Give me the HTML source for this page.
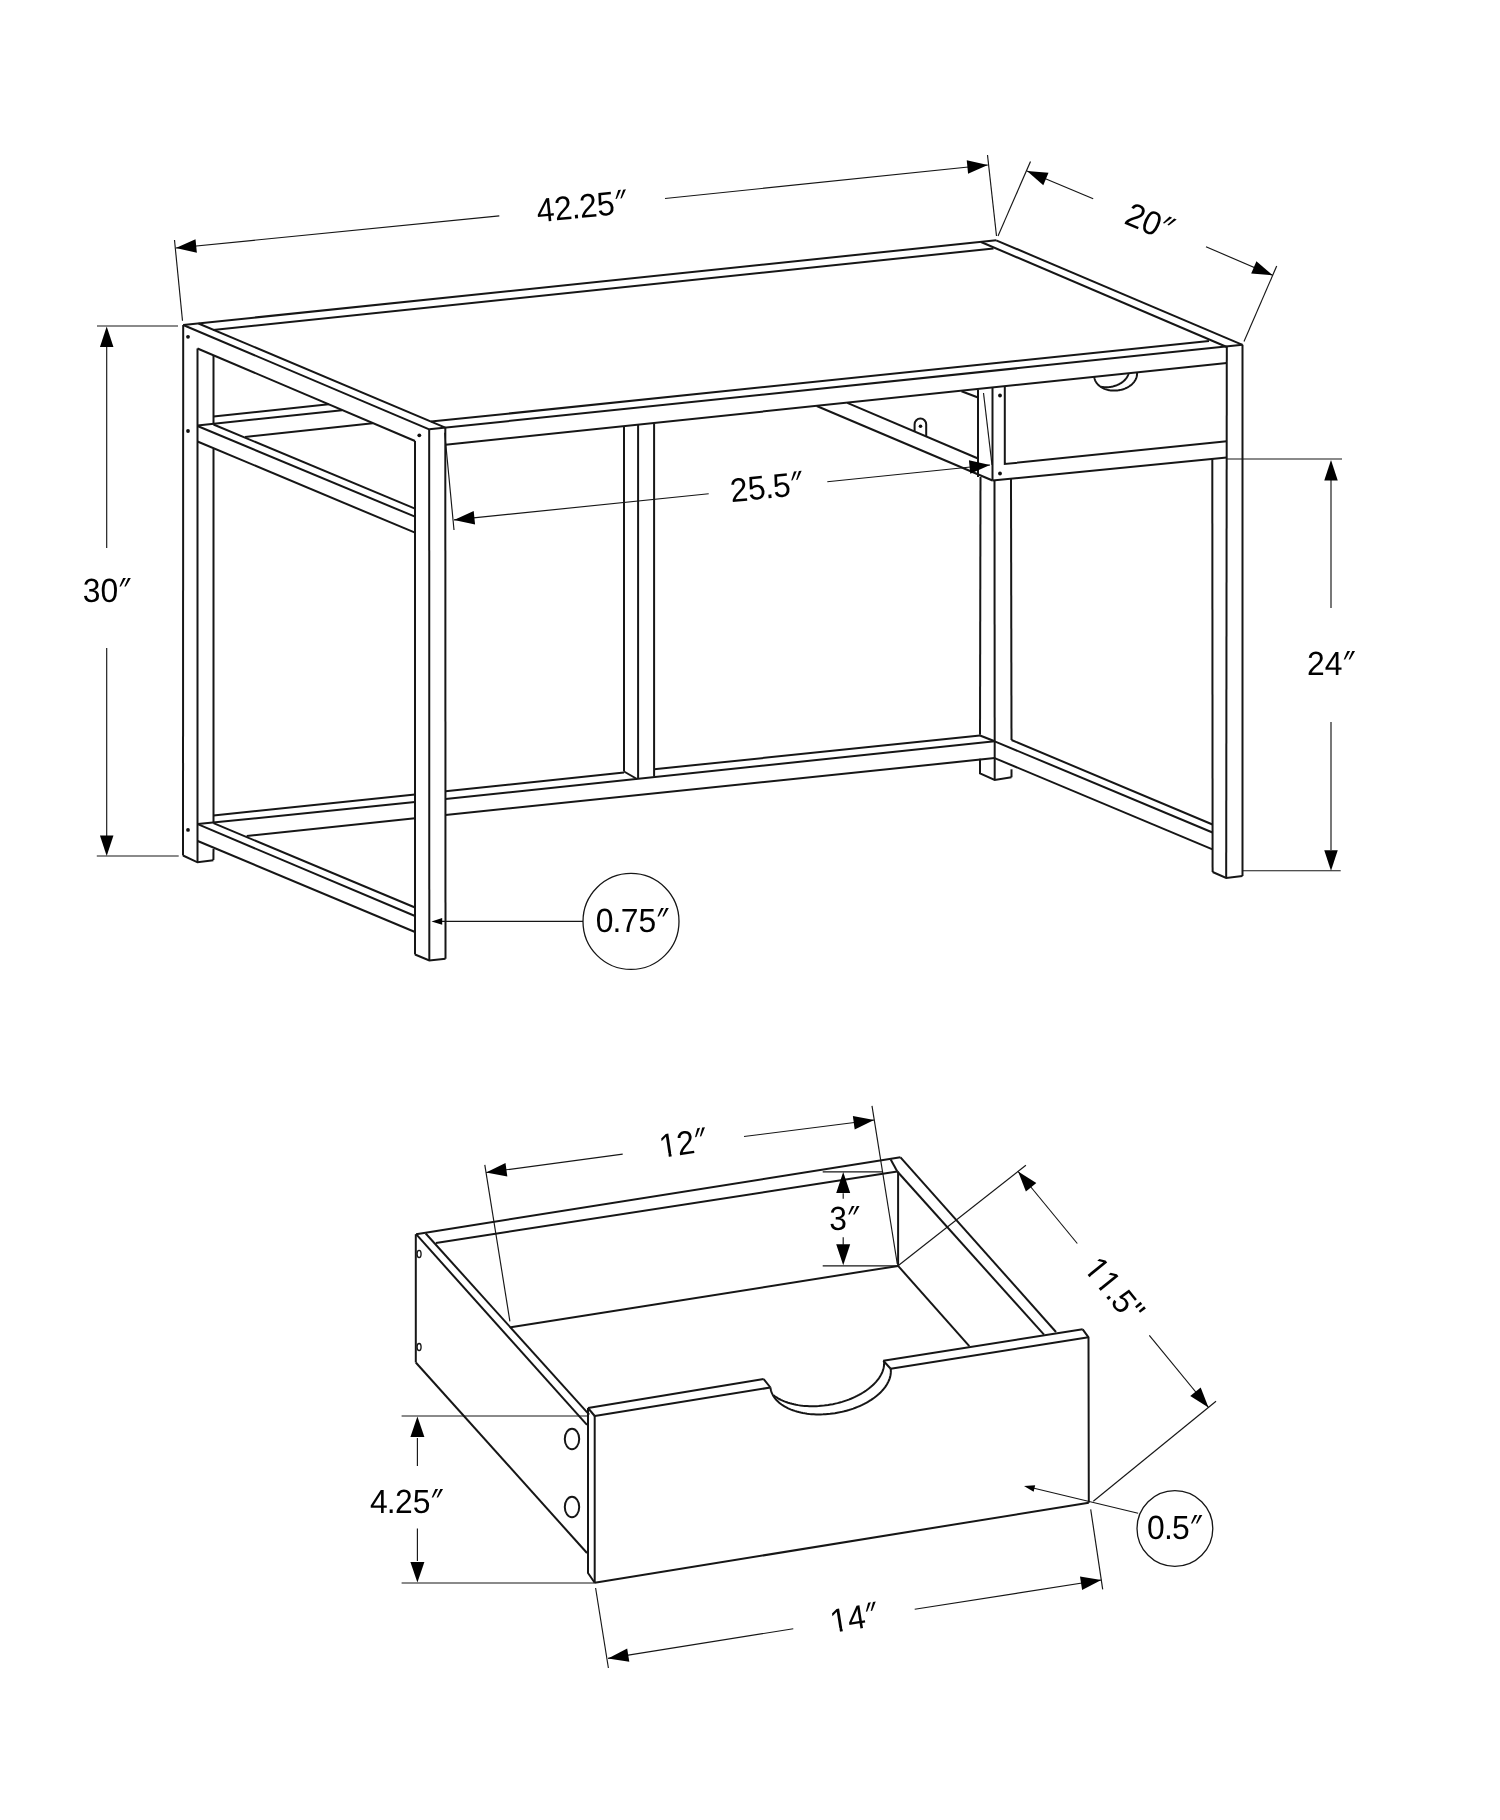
<!DOCTYPE html>
<html><head><meta charset="utf-8"><title>Desk dimensions</title>
<style>html,body{margin:0;padding:0;background:#fff}svg{display:block}</style></head>
<body><svg width="1500" height="1820" viewBox="0 0 1500 1820">
<rect width="1500" height="1820" fill="#fff"/>
<g fill="none" stroke="#161616" stroke-width="2.00" stroke-linecap="butt" stroke-linejoin="miter">
<polyline points="183.20,325.00 996.20,240.30"/>
<polyline points="996.20,240.30 1242.50,344.80"/>
<polyline points="429.20,429.30 1242.50,344.80"/>
<polyline points="183.20,325.00 429.20,429.30"/>
<polyline points="198.50,323.50 445.30,427.60"/>
<polyline points="213.00,330.00 993.50,248.50"/>
<polyline points="981.00,242.00 1226.80,347.00"/>
<polyline points="431.00,421.60 1209.00,341.00"/>
<polyline points="445.50,444.70 1226.80,363.00"/>
<polyline points="415.00,441.00 415.00,954.50"/>
<polyline points="429.20,429.30 429.30,960.50"/>
<polyline points="445.30,427.60 445.50,958.70"/>
<polyline points="415.00,954.50 429.30,960.50 445.50,958.70"/>
<polyline points="183.20,325.00 183.00,855.50"/>
<polyline points="197.50,348.50 197.50,862.30"/>
<polyline points="213.50,355.00 213.50,424.50"/>
<polyline points="213.50,449.00 213.50,823.20"/>
<polyline points="213.50,849.00 213.40,860.00"/>
<polyline points="183.00,855.50 197.50,862.30 213.40,860.30"/>
<polyline points="197.50,348.50 415.00,441.00"/>
<polyline points="213.50,424.50 415.00,508.70"/>
<polyline points="197.50,426.00 415.00,516.70"/>
<polyline points="197.50,441.50 415.00,532.70"/>
<polyline points="213.50,416.50 328.70,404.20"/>
<polyline points="197.50,425.50 342.00,410.20"/>
<polyline points="245.00,437.00 372.70,423.30"/>
<polyline points="213.50,823.20 415.00,907.50"/>
<polyline points="197.70,824.20 415.00,916.00"/>
<polyline points="197.70,841.00 415.00,932.00"/>
<polyline points="213.40,815.50 415.00,794.50"/>
<polyline points="445.50,791.20 624.00,772.50"/>
<polyline points="654.10,769.30 980.00,735.50"/>
<polyline points="197.70,824.10 415.00,802.10"/>
<polyline points="445.50,799.00 994.70,741.30"/>
<polyline points="246.70,836.00 415.00,818.30"/>
<polyline points="445.50,815.00 994.70,758.10"/>
<polyline points="624.00,426.50 624.00,771.50"/>
<polyline points="638.10,425.00 638.10,778.70"/>
<polyline points="654.10,423.40 654.10,776.50"/>
<polyline points="624.00,771.50 637.00,779.00"/>
<polyline points="980.50,477.00 980.00,734.70"/>
<polyline points="994.50,480.50 994.70,780.00"/>
<polyline points="1011.00,479.00 1011.50,740.00"/>
<polyline points="1011.50,769.30 1011.50,777.30"/>
<polyline points="980.00,758.70 980.00,773.30 994.70,780.00 1011.50,777.30"/>
<polyline points="980.00,735.50 994.70,741.30"/>
<polyline points="1011.50,740.00 1212.50,824.50"/>
<polyline points="994.70,741.30 1212.50,832.50"/>
<polyline points="994.70,758.10 1212.50,849.30"/>
<polyline points="1242.50,344.80 1242.50,876.00"/>
<polyline points="1226.80,347.00 1226.20,877.90"/>
<polyline points="1212.30,458.70 1212.60,872.00"/>
<polyline points="1212.60,872.00 1226.20,877.90 1242.50,876.00"/>
<polyline points="978.00,389.50 978.00,477.00"/>
<polyline points="992.50,388.00 992.50,480.50"/>
<polyline points="1004.80,387.00 1004.80,464.00 1226.80,441.20"/>
<polyline points="992.50,480.50 1226.80,457.50"/>
<polyline points="847.30,402.80 978.00,458.50"/>
<polyline points="816.70,406.00 992.50,480.50"/>
<polyline points="961.50,391.20 978.00,397.50"/>
<polyline points="1137.00,372.30 1137.05,372.92 1137.07,373.55 1137.06,374.17 1137.01,374.80 1136.93,375.43 1136.82,376.05 1136.67,376.68 1136.49,377.30 1136.28,377.91 1136.04,378.53 1135.77,379.13 1135.46,379.73 1135.13,380.32 1134.76,380.90 1134.37,381.47 1133.95,382.04 1133.49,382.59 1133.01,383.12 1132.51,383.65 1131.98,384.16 1131.42,384.66 1130.84,385.14 1130.23,385.60 1129.61,386.05 1128.96,386.48 1128.29,386.89 1127.60,387.29 1126.89,387.66 1126.17,388.01 1125.43,388.35 1124.67,388.66 1123.90,388.95 1123.12,389.22 1122.33,389.46 1121.52,389.69 1120.71,389.89 1119.89,390.06 1119.06,390.22 1118.23,390.35 1117.39,390.45 1116.55,390.53 1115.71,390.59 1114.87,390.62 1114.03,390.62 1113.19,390.60 1112.36,390.56 1111.53,390.49 1110.71,390.40 1109.89,390.29 1109.09,390.15 1108.29,389.98 1107.51,389.79 1106.74,389.58 1105.98,389.35 1105.24,389.09 1104.51,388.81 1103.80,388.51 1103.11,388.19 1102.44,387.85 1101.78,387.48 1101.15,387.10 1100.55,386.70 1099.96,386.28 1099.40,385.84 1098.86,385.38 1098.36,384.91 1097.87,384.42 1097.42,383.92 1096.99,383.40 1096.59,382.87 1096.22,382.32 1095.88,381.77 1095.57,381.20 1095.30,380.62 1095.05,380.04 1094.84,379.44 1094.65,378.84 1094.50,378.23 1094.38,377.62 1094.30,377.00"/>
<polyline points="1128.67,373.28 1128.49,373.90 1128.28,374.51 1128.04,375.13 1127.77,375.73 1127.46,376.33 1127.13,376.92 1126.76,377.50 1126.37,378.07 1125.95,378.64 1125.49,379.19 1125.01,379.72 1124.51,380.25 1123.98,380.76 1123.42,381.26 1122.84,381.74 1122.23,382.20 1121.61,382.65 1120.96,383.08 1120.29,383.49 1119.60,383.89 1118.89,384.26 1118.17,384.61 1117.43,384.95 1116.67,385.26 1115.90,385.55 1115.12,385.82 1114.33,386.06 1113.52,386.29 1112.71,386.49 1111.89,386.66 1111.06,386.82 1110.23,386.95 1109.39,387.05 1108.55,387.13 1107.71,387.19 1106.87,387.22 1106.03,387.22 1105.19,387.20 1104.36,387.16 1103.53,387.09 1102.71,387.00 1101.89,386.89 1101.09,386.75"/>
<polyline points="416.10,1234.20 900.50,1157.30"/>
<polyline points="435.90,1243.00 897.30,1171.50"/>
<polyline points="415.80,1234.20 415.80,1362.50"/>
<polyline points="416.10,1234.20 587.00,1424.90"/>
<polyline points="425.70,1233.50 589.20,1414.60"/>
<polyline points="415.80,1362.50 587.00,1553.00"/>
<polyline points="900.50,1157.30 1056.00,1332.00"/>
<polyline points="897.30,1171.50 1044.00,1334.70"/>
<polyline points="890.70,1159.50 897.30,1171.50"/>
<polyline points="898.10,1171.50 898.10,1265.90"/>
<polyline points="898.10,1265.90 969.30,1346.10"/>
<polyline points="510.70,1327.30 898.10,1265.90"/>
<polyline points="588.00,1408.00 763.70,1379.10"/>
<polyline points="883.30,1360.70 1082.70,1329.30"/>
<polyline points="594.70,1416.00 770.40,1387.50"/>
<polyline points="890.70,1368.70 1088.50,1337.30"/>
<polyline points="1082.70,1329.30 1088.50,1337.30 1088.80,1502.70"/>
<polyline points="1088.80,1502.70 594.70,1582.70"/>
<polyline points="588.00,1408.00 588.00,1573.00 594.70,1582.70"/>
<polyline points="594.70,1416.00 594.70,1582.70"/>
<polyline points="588.00,1408.00 594.70,1416.00"/>
<polyline points="763.70,1379.10 770.40,1387.50"/>
<polyline points="883.30,1360.70 890.70,1368.70"/>
<polyline points="890.70,1368.70 890.82,1370.09 890.85,1371.48 890.79,1372.89 890.64,1374.31 890.39,1375.73 890.05,1377.15 889.62,1378.58 889.09,1380.01 888.48,1381.43 887.78,1382.85 886.99,1384.26 886.11,1385.66 885.15,1387.05 884.10,1388.42 882.97,1389.78 881.76,1391.13 880.47,1392.45 879.10,1393.75 877.66,1395.02 876.14,1396.27 874.56,1397.49 872.91,1398.69 871.19,1399.85 869.41,1400.97 867.57,1402.06 865.67,1403.12 863.72,1404.13 861.72,1405.11 859.66,1406.04 857.57,1406.93 855.43,1407.78 853.26,1408.58 851.04,1409.33 848.80,1410.04 846.53,1410.69 844.24,1411.30 841.92,1411.85 839.59,1412.35 837.24,1412.80 834.88,1413.20 832.52,1413.54 830.15,1413.83 827.78,1414.06 825.42,1414.24 823.06,1414.36 820.72,1414.42 818.39,1414.43 816.08,1414.39 813.79,1414.28 811.53,1414.13 809.30,1413.91 807.10,1413.64 804.94,1413.32 802.81,1412.94 800.73,1412.51 798.70,1412.02 796.71,1411.48 794.78,1410.90 792.90,1410.26 791.08,1409.57 789.32,1408.83 787.62,1408.04 785.99,1407.21 784.43,1406.34 782.94,1405.42 781.53,1404.45 780.19,1403.45 778.92,1402.41 777.74,1401.33 776.64,1400.22 775.62,1399.07 774.68,1397.89 773.83,1396.67 773.07,1395.43 772.40,1394.17 771.82,1392.88 771.33,1391.56 770.93,1390.22 770.62,1388.87 770.40,1387.50"/>
<polyline points="884.00,1360.50 884.12,1361.89 884.15,1363.28 884.09,1364.69 883.94,1366.11 883.69,1367.53 883.35,1368.95 882.92,1370.38 882.39,1371.81 881.78,1373.23 881.08,1374.65 880.29,1376.06 879.41,1377.46 878.45,1378.85 877.40,1380.22 876.27,1381.58 875.06,1382.93 873.77,1384.25 872.40,1385.55 870.96,1386.82 869.44,1388.07 867.86,1389.29 866.21,1390.49 864.49,1391.65 862.71,1392.77 860.87,1393.86 858.97,1394.92 857.02,1395.93 855.02,1396.91 852.96,1397.84 850.87,1398.73 848.73,1399.58 846.56,1400.38 844.34,1401.13 842.10,1401.84 839.83,1402.49 837.54,1403.10 835.22,1403.65 832.89,1404.15 830.54,1404.60 828.18,1405.00 825.82,1405.34 823.45,1405.63 821.08,1405.86 818.72,1406.04 816.36,1406.16 814.02,1406.22 811.69,1406.23 809.38,1406.19 807.09,1406.08 804.83,1405.93 802.60,1405.71 800.40,1405.44 798.24,1405.12 796.11,1404.74 794.03,1404.31 792.00,1403.82 790.01,1403.28 788.08,1402.70 786.20,1402.06 784.38,1401.37 782.62,1400.63 780.92,1399.84 779.29,1399.01 777.73,1398.14 776.24,1397.22 774.83,1396.25 773.49,1395.25"/>
</g>
<g fill="none" stroke="#161616" stroke-width="1.15">
<polyline points="174.50,240.00 182.50,320.70"/>
<polyline points="987.50,155.00 996.50,236.00"/>
<polyline points="176.00,248.00 499.30,215.90"/>
<polyline points="665.00,198.50 987.80,165.00"/>
<polyline points="998.00,236.00 1030.50,161.50"/>
<polyline points="1244.00,341.50 1276.70,266.00"/>
<polyline points="1027.00,171.00 1093.20,198.80"/>
<polyline points="1206.00,246.80 1272.70,275.30"/>
<polyline points="444.70,432.70 454.00,530.00"/>
<polyline points="983.50,393.00 992.00,465.00"/>
<polyline points="454.00,519.90 708.70,493.80"/>
<polyline points="827.30,481.70 990.00,465.00"/>
<polyline points="97.00,326.00 178.00,326.00"/>
<polyline points="96.80,856.00 178.70,856.00"/>
<polyline points="106.70,346.00 106.70,548.00"/>
<polyline points="106.70,648.00 106.70,836.00"/>
<polyline points="1226.80,459.00 1342.00,459.00"/>
<polyline points="1242.50,870.70 1340.70,870.70"/>
<polyline points="1331.00,479.00 1331.00,608.00"/>
<polyline points="1331.00,722.00 1331.00,850.00"/>
<polyline points="583.00,921.40 440.00,921.40"/>
<polyline points="484.80,1164.80 509.90,1321.30"/>
<polyline points="872.00,1105.90 897.30,1264.00"/>
<polyline points="486.10,1172.50 622.70,1154.10"/>
<polyline points="744.00,1136.50 874.10,1120.00"/>
<polyline points="822.70,1171.80 882.50,1171.80"/>
<polyline points="822.70,1265.90 897.30,1265.90"/>
<polyline points="843.20,1193.30 843.20,1198.70"/>
<polyline points="843.20,1237.30 843.20,1244.80"/>
<polyline points="898.70,1265.30 1025.90,1165.30"/>
<polyline points="1093.30,1501.30 1216.00,1401.30"/>
<polyline points="1018.10,1171.50 1077.30,1243.50"/>
<polyline points="1149.30,1335.30 1208.50,1407.50"/>
<polyline points="401.60,1416.00 587.00,1416.00"/>
<polyline points="401.60,1583.00 595.00,1583.00"/>
<polyline points="417.40,1438.00 417.40,1466.00"/>
<polyline points="417.40,1528.40 417.40,1561.00"/>
<polyline points="1138.10,1513.30 1032.00,1487.80"/>
<polyline points="595.60,1588.00 608.40,1668.00"/>
<polyline points="1090.70,1509.30 1102.70,1589.30"/>
<polyline points="608.00,1658.40 793.30,1628.70"/>
<polyline points="914.70,1609.30 1101.30,1580.00"/>
</g>
<g font-family="'Liberation Sans', sans-serif" fill="#000" opacity="0.999" text-rendering="geometricPrecision" style="font-kerning:none">
<path d="M914.6,431 L914.6,424.5 A5.8,6 0 0 1 926.2,424.5 L926.2,436" fill="none" stroke="#161616" stroke-width="2.00"/>
<circle cx="920.50" cy="426.20" r="1.80" fill="#111"/>
<circle cx="188.00" cy="336.80" r="1.90" fill="#111"/>
<circle cx="188.00" cy="431.00" r="1.90" fill="#111"/>
<circle cx="188.00" cy="829.90" r="1.90" fill="#111"/>
<circle cx="419.30" cy="435.30" r="1.90" fill="#111"/>
<circle cx="1000.00" cy="395.50" r="1.90" fill="#111"/>
<circle cx="1000.00" cy="473.50" r="1.90" fill="#111"/>
<polygon points="175.80,248.00 195.51,239.20 196.88,252.63" fill="#000"/>
<polygon points="987.80,165.00 968.09,173.80 966.72,160.37" fill="#000"/>
<g transform="translate(582.20,205.90) rotate(-5.70) translate(-45.81,11.91)"><text transform="scale(0.950,1)" font-size="33.5" dx="0.00 0.00 -0.76 -0.76 0.00">42.25</text><text transform="translate(73.58,-1.1) skewX(-17.9) scale(0.88,1)" font-size="33.5">″</text></g>
<polygon points="1027.00,171.00 1048.51,172.71 1043.29,185.16" fill="#000"/>
<polygon points="1272.70,275.30 1251.19,273.59 1256.41,261.14" fill="#000"/>
<g transform="translate(1150.50,221.85) rotate(23.00) translate(-24.85,11.91)"><text transform="scale(0.950,1)" font-size="33.5" dx="0.00 0.00">20</text><text transform="translate(30.78,-1.1) skewX(-17.9) scale(0.88,1)" font-size="33.5">″</text></g>
<polygon points="454.00,519.90 473.71,511.10 475.08,524.53" fill="#000"/>
<polygon points="990.00,465.00 970.29,473.80 968.92,460.37" fill="#000"/>
<g transform="translate(767.30,486.50) rotate(-5.80) translate(-37.40,11.91)"><text transform="scale(0.950,1)" font-size="33.5" dx="0.00 0.00 -0.76 -0.76">25.5</text><text transform="translate(55.88,-1.1) skewX(-17.9) scale(0.88,1)" font-size="33.5">″</text></g>
<polygon points="106.70,326.50 113.45,347.00 99.95,347.00" fill="#000"/>
<polygon points="106.70,856.00 99.95,835.50 113.45,835.50" fill="#000"/>
<g transform="translate(107.45,589.70) rotate(0.00) translate(-24.66,11.91)"><text transform="scale(0.950,1)" font-size="33.5" dx="0.00 0.00">30</text><text transform="translate(30.78,-1.1) skewX(-17.9) scale(0.88,1)" font-size="33.5">″</text></g>
<polygon points="1331.00,460.00 1337.75,480.50 1324.25,480.50" fill="#000"/>
<polygon points="1331.00,870.70 1324.25,850.20 1337.75,850.20" fill="#000"/>
<g transform="translate(1331.85,663.25) rotate(0.00) translate(-24.85,12.07)"><text transform="scale(0.950,1)" font-size="33.5" dx="0.00 0.00">24</text><text transform="translate(30.78,-1.1) skewX(-17.9) scale(0.88,1)" font-size="33.5">″</text></g>
<circle cx="631.0" cy="921.4" r="48.0" fill="none" stroke="#161616" stroke-width="1.30"/>
<polygon points="431.50,921.40 442.20,918.05 442.20,924.75" fill="#000"/>
<g transform="translate(632.85,920.15) rotate(0.00) translate(-37.22,11.91)"><text transform="scale(0.950,1)" font-size="33.5" dx="0.00 -0.76 -0.76 0.00">0.75</text><text transform="translate(55.88,-1.1) skewX(-17.9) scale(0.88,1)" font-size="33.5">″</text></g>
<ellipse cx="572" cy="1439" rx="7.2" ry="10.2" fill="none" stroke="#161616" stroke-width="2.00"/>
<ellipse cx="572" cy="1507" rx="7.2" ry="10.2" fill="none" stroke="#161616" stroke-width="2.00"/>
<ellipse cx="419.1" cy="1254" rx="2" ry="3.6" fill="none" stroke="#161616" stroke-width="1.3"/>
<ellipse cx="419.1" cy="1347.1" rx="2" ry="3.6" fill="none" stroke="#161616" stroke-width="1.3"/>
<polygon points="486.10,1172.50 505.51,1163.07 507.32,1176.45" fill="#000"/>
<polygon points="874.10,1120.00 854.69,1129.43 852.88,1116.05" fill="#000"/>
<g transform="translate(684.50,1142.30) rotate(-8.50) translate(-25.58,12.07)"><text transform="scale(0.950,1)" font-size="33.5" dx="0.00 0.00">12</text><rect x="1.24" y="-3.52" width="6.71" height="4.72" fill="#fff"/><rect x="10.86" y="-3.52" width="6.46" height="4.72" fill="#fff"/><text transform="translate(30.78,-1.1) skewX(-17.9) scale(0.88,1)" font-size="33.5">″</text></g>
<polygon points="843.20,1172.00 850.20,1193.00 836.20,1193.00" fill="#000"/>
<polygon points="843.20,1265.30 836.20,1244.30 850.20,1244.30" fill="#000"/>
<g transform="translate(845.00,1218.00) rotate(0.00) translate(-15.81,11.91)"><text transform="scale(0.950,1)" font-size="33.5" dx="0.00">3</text><text transform="translate(13.08,-1.1) skewX(-17.9) scale(0.88,1)" font-size="33.5">″</text></g>
<polygon points="1018.10,1171.50 1036.33,1183.05 1025.91,1191.62" fill="#000"/>
<polygon points="1208.50,1407.50 1190.27,1395.95 1200.69,1387.38" fill="#000"/>
<g transform="translate(1115.00,1289.90) rotate(50.80) translate(-36.95,11.79)"><text transform="scale(0.950,1)" font-size="33.5" dx="0.00 0.00 -0.76 -0.76">11.5</text><rect x="1.24" y="-3.52" width="6.71" height="4.72" fill="#fff"/><rect x="10.86" y="-3.52" width="6.46" height="4.72" fill="#fff"/><rect x="18.94" y="-3.52" width="6.71" height="4.72" fill="#fff"/><rect x="28.56" y="-3.52" width="6.46" height="4.72" fill="#fff"/><text transform="translate(60.90,-0.9) scale(0.950,1)" font-size="33.5">"</text></g>
<polygon points="417.40,1416.40 424.40,1436.90 410.40,1436.90" fill="#000"/>
<polygon points="417.40,1582.40 410.40,1561.90 424.40,1561.90" fill="#000"/>
<g transform="translate(406.85,1501.20) rotate(0.00) translate(-36.96,11.91)"><text transform="scale(0.950,1)" font-size="33.5" dx="0.00 -0.76 -0.76 0.00">4.25</text><text transform="translate(55.88,-1.1) skewX(-17.9) scale(0.88,1)" font-size="33.5">″</text></g>
<circle cx="1174.9" cy="1528.5" r="37.9" fill="none" stroke="#161616" stroke-width="1.30"/>
<polygon points="1024.00,1485.90 1035.19,1485.14 1033.62,1491.66" fill="#000"/>
<g transform="translate(1175.30,1527.15) rotate(0.00) translate(-28.37,11.91)"><text transform="scale(0.950,1)" font-size="33.5" dx="0.00 -0.76 -0.76">0.5</text><text transform="translate(38.18,-1.1) skewX(-17.9) scale(0.88,1)" font-size="33.5">″</text></g>
<polygon points="608.00,1658.40 627.18,1648.50 629.31,1661.83" fill="#000"/>
<polygon points="1101.30,1580.00 1082.12,1589.90 1079.99,1576.57" fill="#000"/>
<g transform="translate(855.50,1617.10) rotate(-9.00) translate(-25.58,12.07)"><text transform="scale(0.950,1)" font-size="33.5" dx="0.00 0.00">14</text><rect x="1.24" y="-3.52" width="6.71" height="4.72" fill="#fff"/><rect x="10.86" y="-3.52" width="6.46" height="4.72" fill="#fff"/><text transform="translate(30.78,-1.1) skewX(-17.9) scale(0.88,1)" font-size="33.5">″</text></g>
</g>
</svg></body></html>
